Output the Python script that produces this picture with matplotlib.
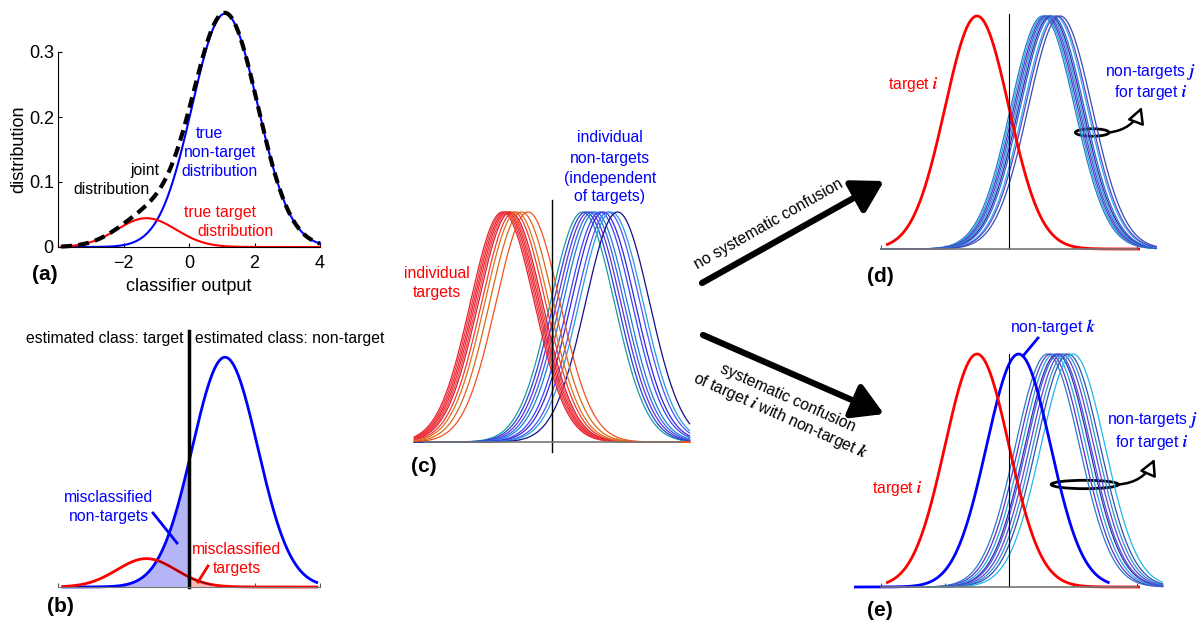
import numpy as np
import matplotlib
matplotlib.use("Agg")
import matplotlib.pyplot as plt
from matplotlib.patches import Ellipse, FancyArrowPatch

plt.rcParams['font.family'] = ['Liberation Sans', 'DejaVu Sans']
plt.rcParams['mathtext.fontset'] = 'cm'

W, H = 1201, 622

# ---- model parameters (mean, sigma, weight) ----
target_mu, target_sd, target_w = -1.3, 0.9, 0.10
nontarget_mu, nontarget_sd, nontarget_w = 1.1, 1.0, 0.90

# panel (c): individual curves (peak positions)
c_target_mu = [-1.55, -1.5, -1.45, -1.4, -1.35, -1.3, -1.2, -1.1, -0.95, -0.75]
c_target_col = ['#e8202a', '#f03a4a', '#e62838', '#ff2424', '#e84a5a',
                '#d82030', '#f23a30', '#e0701c', '#d8681a', '#f0501e']
c_nontarget_mu = [0.95, 1.05, 1.15, 1.25, 1.35, 1.5, 1.6, 1.75, 1.85, 2.05]
c_nontarget_col = ['#1a9a9a', '#2040e0', '#6030d0', '#3060f0', '#1a80d0',
                   '#4040ff', '#2a2ad8', '#5050ff', '#20a0e0', '#10108a']

# panel (d)
d_target_mu = -1.0
d_j_mu = [1.05, 1.1, 1.15, 1.2, 1.25, 1.3, 1.35, 1.45, 1.5, 1.6]
d_j_col = ['#2a7ac8', '#22a8d8', '#5a30d0', '#2f5fc0', '#3a9ad8',
           '#4020b8', '#2a6ad0', '#30b0e0', '#6040d8', '#3050b0']

# panel (e)
e_target_mu = -1.0
e_k_mu = 0.3
e_j_mu = [1.2, 1.3, 1.4, 1.5, 1.55, 1.65, 1.75, 1.85, 2.0]
e_j_col = ['#2a7ac8', '#5a30d0', '#22a8d8', '#4020b8', '#3a5fd0',
           '#6040d8', '#2f8fd0', '#3050b0', '#20b8e8']


def gauss(x, mu, sd, w=1.0):
    return w / (sd * np.sqrt(2 * np.pi)) * np.exp(-0.5 * ((x - mu) / sd) ** 2)


def bump(x, mu):
    return np.exp(-0.5 * (x - mu) ** 2)


def ax_px(x0, x1, ybot, ytop):
    # axes from pixel box (y measured from top)
    return fig.add_axes([x0 / W, 1 - ybot / H, (x1 - x0) / W, (ybot - ytop) / H])


fig = plt.figure(figsize=(W / 100, H / 100), dpi=100)
FS = 11.3
AFS = 13
RED, BLUE = '#ff0000', '#0000ff'

# ---------------- (a) ----------------
ax = ax_px(58, 320, 247, 52)
x = np.linspace(-3.9, 4, 400)
pt = gauss(x, target_mu, target_sd, target_w)
pn = gauss(x, nontarget_mu, nontarget_sd, nontarget_w)
ax.plot(x, pn, color=BLUE, lw=1.5, clip_on=False)
ax.plot(x, pt, color=RED, lw=1.5, clip_on=False)
ax.plot(x, pt + pn, color='k', lw=3, ls=(0, (2.6, 1.5)), clip_on=False)
ax.set_xlim(-4, 4)
ax.set_ylim(0, 0.3)
ax.set_xticks([-4, -2, 0, 2, 4])
ax.set_xticklabels(['', '\u22122', '0', '2', '4'])
ax.set_yticks([0, 0.1, 0.2, 0.3])
ax.set_yticklabels(['0', '0.1', '0.2', '0.3'])
ax.tick_params(direction='in', length=3, labelsize=AFS, pad=3)
ax.tick_params(axis='x', pad=6)
for s in ['top', 'right']:
    ax.spines[s].set_visible(False)
ax.set_xlabel('classifier output', fontsize=AFS, labelpad=4)
ax.set_ylabel('distribution', fontsize=AFS, labelpad=1)

# ---------------- (b) ----------------
ax = ax_px(58, 320, 587, 395)
x = np.linspace(-3.85, 3.9, 400)
pt = gauss(x, target_mu, target_sd, target_w)
pn = gauss(x, nontarget_mu, nontarget_sd, nontarget_w)
ax.fill_between(x, 0, pn, where=x <= 0, color='#b4b4f6', lw=0)
ax.fill_between(x, 0, pt, where=x >= 0, color='#f6b8b8', lw=0)
ax.plot(x, pn, color=BLUE, lw=2, clip_on=False)
ax.plot(x, pt, color=RED, lw=2, clip_on=False)
seg = (x > -0.95) & (x < 0.7)
ax.plot(x[seg], pt[seg], color='#4a0a0a', lw=0.6)
ax.plot([0, 0], [0, 0.4], color='k', lw=2.5, clip_on=False)
ax.set_xlim(-4, 4)
ax.set_ylim(0, 0.3)
ax.set_xticks([-4, -2, 0, 2, 4])
ax.set_xticklabels([])
ax.set_yticks([])
ax.tick_params(direction='in', length=3, color='#555555')
for s in ['top', 'right', 'left']:
    ax.spines[s].set_visible(False)
ax.spines['bottom'].set_color('#777777')

# ---------------- (c) ----------------
ax = ax_px(424, 680, 442, 212)
x = np.linspace(-4.3, 4.3, 400)
for mu, col in zip(c_nontarget_mu, c_nontarget_col):
    ax.plot(x, bump(x, mu), color=col, lw=0.9, clip_on=False)
for mu, col in zip(c_target_mu, c_target_col):
    ax.plot(x, bump(x, mu), color=col, lw=0.9, clip_on=False)
ax.plot([0, 0], [-0.045, 1.05], color='k', lw=1, clip_on=False)
ax.set_xlim(-4, 4)
ax.set_ylim(0, 1)
ax.set_xticks([-4, -2, 0, 2, 4])
ax.set_xticklabels([])
ax.set_yticks([])
ax.tick_params(direction='in', length=3, color='#555555')
for s in ['top', 'right', 'left']:
    ax.spines[s].set_visible(False)
ax.spines['bottom'].set_color('#777777')
ax.spines['bottom'].set_linewidth(1.2)

# ---------------- (d) ----------------
axd = ax_px(881, 1137, 249, 16)
xj = np.linspace(-4, 4.6, 400)
for mu, col in zip(d_j_mu, d_j_col):
    axd.plot(xj, bump(xj, mu), color=col, lw=0.9, clip_on=False)
xt = np.linspace(-3.8, 4.05, 400)
axd.plot(xt, bump(xt, d_target_mu), color=RED, lw=2, clip_on=False)
axd.plot([0, 0], [0, 1.01], color='k', lw=0.8, clip_on=False)

# ---------------- (e) ----------------
axe = ax_px(881, 1137, 587, 354)
xj = np.linspace(-3.2, 4.8, 400)
for mu, col in zip(e_j_mu, e_j_col):
    axe.plot(xj, bump(xj, mu), color=col, lw=0.9, clip_on=False)
xk = np.linspace(-4.8, 3.1, 400)
axe.plot(xk, bump(xk, e_k_mu), color=BLUE, lw=2, clip_on=False)
axe.plot(xt, bump(xt, e_target_mu), color=RED, lw=2, clip_on=False)
axe.plot([0, 0], [0, 1.0], color='k', lw=0.8, clip_on=False)

for a in (axd, axe):
    a.set_xlim(-4, 4)
    a.set_ylim(0, 1)
    a.set_xticks([-4, -2, 0, 2, 4])
    a.set_xticklabels([])
    a.set_yticks([])
    a.tick_params(direction='in', length=3, color='#555555')
    for s in ['top', 'right', 'left']:
        a.spines[s].set_visible(False)
    a.spines['bottom'].set_color('#777777')
    a.spines['bottom'].set_linewidth(1.2)

# ellipses + curved arrows marking the non-target bundles
harrow = '-|>,head_length=0.75,head_width=0.4'
axd.add_patch(Ellipse((2.6, 0.50), 1.05, 0.032, fill=False, ec='k', lw=2, clip_on=False))
axd.add_patch(FancyArrowPatch((3.13, 0.50), (4.15, 0.61), connectionstyle='arc3,rad=0.3',
                              arrowstyle=harrow, mutation_scale=13, shrinkA=0, shrinkB=0,
                              fc='white', ec='k', lw=1.8, clip_on=False))
axe.add_patch(Ellipse((2.37, 0.44), 2.1, 0.036, fill=False, ec='k', lw=2, clip_on=False))
axe.add_patch(FancyArrowPatch((3.42, 0.44), (4.55, 0.55), connectionstyle='arc3,rad=0.3',
                              arrowstyle=harrow, mutation_scale=13, shrinkA=0, shrinkB=0,
                              fc='white', ec='k', lw=1.8, clip_on=False))

# ---------------- overlay: texts, arrows, labels ----------------
ov = fig.add_axes([0, 0, 1, 1])
ov.set_xlim(0, W)
ov.set_ylim(H, 0)
ov.axis('off')
ov.patch.set_alpha(0)

def t(xp, yp, s, c='k', **kw):
    kw.setdefault('ha', 'center')
    kw.setdefault('va', 'center')
    kw.setdefault('fontsize', FS)
    ov.text(xp, yp, s, color=c, **kw)

# (a)
t(209, 134, 'true', BLUE)
t(220, 153, 'non-target', BLUE)
t(220, 172, 'distribution', BLUE)
t(145, 170, 'joint')
t(112, 189, 'distribution')
t(220, 212, 'true target', RED)
t(236, 231, 'distribution', RED)

# (b)
t(183, 339, 'estimated class: target', ha='right')
t(195, 339, 'estimated class: non-target', ha='left')
t(109, 497, 'misclassified', BLUE)
t(109, 517, 'non-targets', BLUE)
ov.plot([153, 177], [513, 543], color=BLUE, lw=2)
t(237, 549, 'misclassified', RED)
t(237, 568, 'targets', RED)
ov.plot([208, 198], [566, 582], color=RED, lw=2)

# (c)
t(610, 138, 'individual', BLUE)
t(610, 158, 'non-targets', BLUE)
t(610, 178, '(independent', BLUE)
t(610, 197, 'of targets)', BLUE)
t(437, 273, 'individual', RED)
t(437, 293, 'targets', RED)

# (d)
t(913, 84, r'target $\mathbfit{i}$', RED)
t(1150, 72, r'non-targets $\mathbfit{j}$', BLUE)
t(1151, 93, r'for target $\mathbfit{i}$', BLUE)

# (e)
t(897, 488, r'target $\mathbfit{i}$', RED)
t(1053, 327, r'non-target $\mathbfit{k}$', BLUE)
ov.plot([1038, 1023], [338, 356], color=BLUE, lw=2)
t(1152, 420, r'non-targets $\mathbfit{j}$', BLUE)
t(1152, 442, r'for target $\mathbfit{i}$', BLUE)

# big arrows
aprops = dict(arrowstyle='-|>,head_length=0.85,head_width=0.5', lw=4.5, color='k',
              mutation_scale=22, shrinkA=0, shrinkB=0)
ov.annotate('', xy=(884, 181), xytext=(702, 283), arrowprops=aprops)
ov.annotate('', xy=(884, 414), xytext=(703, 335), arrowprops=aprops)
t(769, 224, 'no systematic confusion', rotation=29.5, rotation_mode='anchor')
t(784, 408, 'systematic confusion\nof target $\\mathbfit{i}$ with non-target $\\mathbfit{k}$',
  rotation=-24, rotation_mode='anchor', linespacing=1.1)

# panel labels
for xp, yp, s in [(45, 275, '(a)'), (60, 607, '(b)'), (424, 466, '(c)'),
                  (880, 276, '(d)'), (880, 610, '(e)')]:
    t(xp, yp, s, fontsize=15, fontweight='bold')

fig.savefig('out.png', dpi=100)
